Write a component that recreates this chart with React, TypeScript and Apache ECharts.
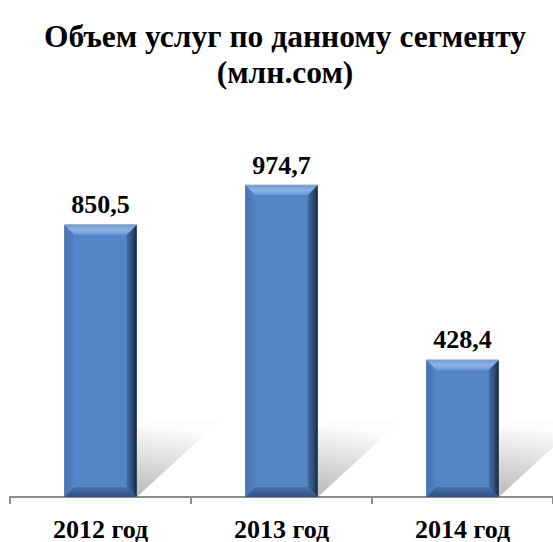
import React, { useEffect, useRef } from 'react';
import * as echarts from 'echarts';

const categories = ['2012 год', '2013 год', '2014 год'];
const values = [850.5, 974.7, 428.4];
const titleLines = ['Объем услуг по данному сегменту', '(млн.сом)'];

const FONT = 'Liberation Serif';

const fmt = (v: number) => v.toFixed(1).replace('.', ',');

export default function App() {
  const ref = useRef<HTMLDivElement>(null);
  useEffect(() => {
    const chart = echarts.init(ref.current!, null, { renderer: 'svg' });
    const renderItem = (params: any, api: any) => {
      const idx = api.value(0);
      const v = api.value(1);
      const base = api.coord([idx, 0]);
      const top = api.coord([idx, v]);
      const w = api.size([1, 0])[0] * 0.4;
      const x0 = base[0] - w / 2;
      const x1 = base[0] + w / 2;
      const y0 = top[1];
      const y1 = base[1];
      const b = 10;
      const dx = 85;
      const dy = 78;
      return {
        type: 'group',
        children: [
          {
            type: 'polygon',
            shape: { points: [[x0, y1], [x1, y1], [x1 + dx, y1 - dy], [x0 + dx, y1 - dy]] },
            style: {
              fill: new echarts.graphic.LinearGradient(0, 1, 0.3, 0, [
                { offset: 0, color: 'rgba(0,0,0,0.32)' },
                { offset: 0.6, color: 'rgba(0,0,0,0.13)' },
                { offset: 1, color: 'rgba(0,0,0,0.01)' },
              ]),
            },
          },
          {
            type: 'rect',
            shape: { x: x0, y: y0, width: x1 - x0, height: y1 - y0 },
            style: { fill: '#5486C7' },
          },
          {
            type: 'polygon',
            shape: { points: [[x0, y0], [x0 + b, y0 + b], [x0 + b, y1 - b], [x0, y1]] },
            style: {
              fill: new echarts.graphic.LinearGradient(0, 0, 1, 0, [
                { offset: 0, color: '#4674B0' },
                { offset: 1, color: '#5383C3' },
              ]),
            },
          },
          {
            type: 'polygon',
            shape: { points: [[x1, y0], [x1, y1], [x1 - b, y1 - b], [x1 - b, y0 + b]] },
            style: {
              fill: new echarts.graphic.LinearGradient(0, 0, 1, 0, [
                { offset: 0, color: '#446EA5' },
                { offset: 0.6, color: '#2D4A73' },
                { offset: 1, color: '#15253D' },
              ]),
            },
          },
          {
            type: 'polygon',
            shape: { points: [[x0, y1], [x0 + b, y1 - b], [x1 - b, y1 - b], [x1, y1]] },
            style: {
              fill: new echarts.graphic.LinearGradient(0, 0, 0, 1, [
                { offset: 0, color: '#4672AA' },
                { offset: 1, color: '#2F5282' },
              ]),
            },
          },
          {
            type: 'polygon',
            shape: { points: [[x0, y0], [x1, y0], [x1 - b, y0 + b], [x0 + b, y0 + b]] },
            style: {
              fill: new echarts.graphic.LinearGradient(0, 0, 0, 1, [
                { offset: 0, color: '#6C98D2' },
                { offset: 0.5, color: '#8CB4E6' },
                { offset: 1, color: '#6A98D4' },
              ]),
            },
          },
          {
            type: 'line',
            shape: { x1: x0, y1: y0, x2: x1, y2: y0 },
            style: { stroke: '#9AA6B4', lineWidth: 1 },
          },
          {
            type: 'text',
            style: {
              text: fmt(v),
              x: base[0],
              y: y0 - 7,
              align: 'center',
              verticalAlign: 'bottom',
              fontSize: 26,
              fontWeight: 'bold',
              fontFamily: FONT,
              fill: '#000',
            },
          },
        ],
      };
    };
    chart.setOption({
      animation: false,
      backgroundColor: '#fff',
      textStyle: { fontFamily: FONT },
      grid: { left: 10, right: -10.5, top: 113, bottom: 43 },
      graphic: titleLines.map((t, i) => ({
        type: 'text',
        x: 285,
        y: 36 + i * 36,
        style: {
          text: t,
          align: 'center',
          verticalAlign: 'middle',
          fontSize: 31.5,
          fontWeight: 'bold',
          fontFamily: FONT,
          fill: '#000',
        },
      })),
      xAxis: {
        type: 'category',
        data: categories,
        boundaryGap: true,
        axisLine: { lineStyle: { color: '#8C8C8C', width: 2 } },
        axisTick: { show: true, length: 7, lineStyle: { color: '#8C8C8C', width: 2 } },
        axisLabel: {
          margin: 19,
          fontSize: 26,
          fontWeight: 'bold',
          fontFamily: FONT,
          color: '#000',
        },
      },
      yAxis: {
        type: 'value',
        min: 0,
        max: 1200,
        show: false,
        splitLine: { show: false },
      },
      series: [
        {
          type: 'custom',
          renderItem,
          clip: false,
          data: values.map((v, i) => [i, v]),
          encode: { x: 0, y: 1 },
        },
      ],
    });
    return () => chart.dispose();
  }, []);
  return (
    <div
      ref={ref}
      style={{ position: 'absolute', left: 0, top: 0, width: 553, height: 542 }}
    />
  );
}
